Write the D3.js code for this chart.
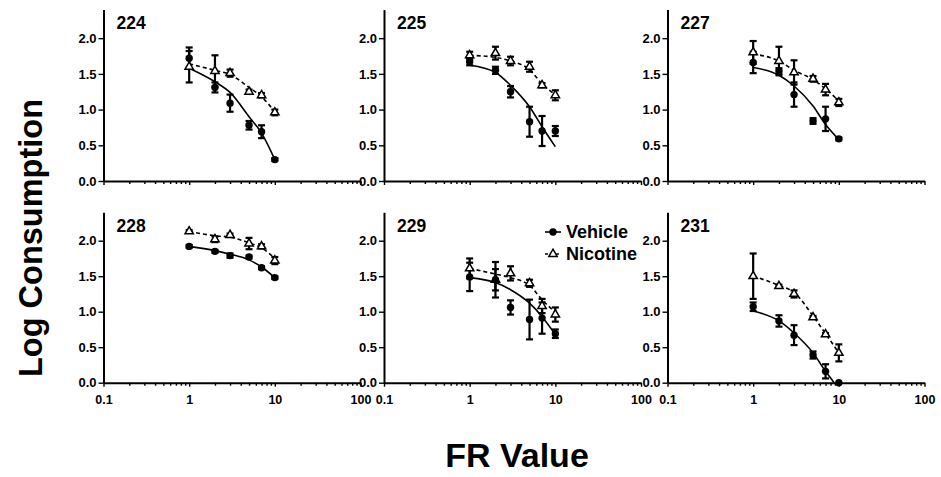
<!DOCTYPE html>
<html>
<head>
<meta charset="utf-8">
<script src="https://cdn.jsdelivr.net/npm/d3@7/dist/d3.min.js"></script>
<style>
  html, body { margin: 0; padding: 0; background: #fff; }
  svg { display: block; }
  text { font-family: "Liberation Sans", Arial, sans-serif; font-weight: bold; fill: #000; }
</style>
</head>
<body>
<svg id="chart" width="941" height="477"></svg>
<script>
// ---------- DATA ----------
const subjects = ["224", "225", "227", "228", "229", "231"];
const frValues = [1, 2, 3, 5, 7, 10];
const yTickValues = [0, 0.5, 1.0, 1.5, 2.0];
const xTickValues = [0.1, 1, 10, 100];
const xTickLabels = ["0.1", "1", "10", "100"];
const seriesNames = ["Vehicle", "Nicotine"];

const vehicleMean = [
  [1.72, 1.31, 1.09, 0.78, 0.69, 0.30],
  [1.67, 1.55, 1.25, 0.83, 0.70, 0.70],
  [1.66, 1.54, 1.21, 0.84, 0.87, 0.59],
  [1.92, 1.85, 1.79, 1.77, 1.62, 1.48],
  [1.49, 1.45, 1.06, 0.89, 0.91, 0.69],
  [1.07, 0.87, 0.67, 0.39, 0.16, 0.00]
];
const vehicleErr = [
  [0.15, 0.07, 0.12, 0.06, 0.09, 0.02],
  [0.05, 0.05, 0.08, 0.21, 0.21, 0.07],
  [0.15, 0.04, 0.17, 0.04, 0.17, 0.02],
  [0.02, 0.02, 0.03, 0.02, 0.02, 0.02],
  [0.20, 0.25, 0.10, 0.28, 0.22, 0.06],
  [0.06, 0.08, 0.14, 0.05, 0.10, 0.00]
];
const nicotineMean = [
  [1.60, 1.54, 1.51, 1.25, 1.20, 0.96],
  [1.76, 1.79, 1.68, 1.60, 1.34, 1.20],
  [1.80, 1.68, 1.52, 1.43, 1.28, 1.10],
  [2.13, 2.02, 2.08, 1.96, 1.92, 1.72],
  [1.61, 1.45, 1.54, 1.40, 1.08, 0.96],
  [1.50, 1.36, 1.25, 0.92, 0.68, 0.42]
];
const nicotineErr = [
  [0.22, 0.22, 0.05, 0.03, 0.03, 0.04],
  [0.05, 0.09, 0.06, 0.07, 0.03, 0.07],
  [0.16, 0.20, 0.17, 0.04, 0.08, 0.05],
  [0.02, 0.04, 0.02, 0.08, 0.03, 0.05],
  [0.14, 0.15, 0.10, 0.05, 0.10, 0.10],
  [0.32, 0.02, 0.05, 0.02, 0.02, 0.12]
];
// fitted demand curves
const vehicleFitX = [
  [1, 2, 3, 5, 7, 10],
  [1, 2, 3, 5, 7, 10],
  [1, 2, 3, 5, 7, 10],
  [1, 2, 3, 5, 7, 10],
  [1, 2, 3, 5, 7, 10],
  [1, 2, 3, 5, 7, 8.8]
];
const vehicleFit = [
  [1.58, 1.39, 1.24, 0.90, 0.67, 0.30],
  [1.62, 1.52, 1.34, 1.04, 0.76, 0.48],
  [1.59, 1.48, 1.33, 1.05, 0.79, 0.58],
  [1.92, 1.86, 1.81, 1.73, 1.63, 1.48],
  [1.48, 1.41, 1.31, 1.12, 0.93, 0.68],
  [1.01, 0.87, 0.70, 0.42, 0.16, 0.00]
];
const nicotineFitX = [
  [1, 2, 3, 5, 7, 10],
  [1, 2, 3, 5, 7, 10],
  [1, 2, 3, 5, 7, 10],
  [1, 2, 3, 5, 7, 10],
  [1, 2, 3, 5, 7, 10],
  [1, 2, 3, 5, 7, 10]
];
const nicotineFit = [
  [1.64, 1.55, 1.49, 1.31, 1.18, 0.97],
  [1.76, 1.73, 1.68, 1.56, 1.36, 1.21],
  [1.78, 1.68, 1.55, 1.42, 1.29, 1.12],
  [2.13, 2.07, 2.05, 1.97, 1.90, 1.75],
  [1.61, 1.53, 1.48, 1.37, 1.17, 0.99],
  [1.50, 1.37, 1.27, 0.94, 0.69, 0.42]
];

// ---------- LAYOUT ----------
const svg = d3.select("#chart");
const colLeft = [103.5, 384, 667.5];
const panelW = 257;
const rowTop = [9.6, 212.3];
const rowBottom = [181, 382.7];

const minorTicks = [];
[0.1, 1, 10].forEach(d => { for (let k = 2; k <= 9; k++) minorTicks.push(d * k); });

subjects.forEach((subj, i) => {
  const col = i % 3, row = Math.floor(i / 3);
  const x = d3.scaleLog().domain([0.1, 100]).range([colLeft[col], colLeft[col] + panelW]);
  const y = d3.scaleLinear().domain([0, 2.4]).range([rowBottom[row], rowTop[row]]);
  const g = svg.append("g");

  // axes
  const yAxis = d3.axisLeft(y).tickValues(yTickValues).tickFormat(d3.format(".1f"))
    .tickSize(5).tickSizeOuter(0).tickPadding(2);
  const ya = g.append("g").attr("transform", `translate(${colLeft[col]},0)`).call(yAxis);
  ya.selectAll("text").style("font-size", "13px");

  const xMinor = d3.axisBottom(x).tickValues(minorTicks).tickFormat("").tickSize(3).tickSizeOuter(0);
  const xm = g.append("g").attr("transform", `translate(0,${rowBottom[row]})`).call(xMinor);
  xm.select(".domain").remove();

  const xAxis = d3.axisBottom(x).tickValues(xTickValues)
    .tickFormat((d, j) => row === 1 ? xTickLabels[j] : "")
    .tickSize(4).tickSizeOuter(0).tickPadding(8);
  const xa = g.append("g").attr("transform", `translate(0,${rowBottom[row]})`).call(xAxis);
  xa.selectAll("text").style("font-size", "12.5px");

  g.selectAll(".domain").attr("stroke-width", 2);
  g.selectAll(".tick line").attr("stroke-width", 1.4);

  // subject label
  g.append("text").attr("x", colLeft[col] + 13).attr("y", rowTop[row] + 19.5)
    .style("font-size", "17.5px").text(subj);

  const series = [
    { mean: nicotineMean[i], err: nicotineErr[i], fx: nicotineFitX[i], fy: nicotineFit[i], dash: "4,3", tri: true },
    { mean: vehicleMean[i], err: vehicleErr[i], fx: vehicleFitX[i], fy: vehicleFit[i], dash: null, tri: false }
  ];

  const line = d3.line().x(d => x(d[0])).y(d => y(d[1])).curve(d3.curveMonotoneX);

  // fitted curves
  series.forEach(s => {
    g.append("path").datum(s.fx.map((v, j) => [v, s.fy[j]]))
      .attr("d", line).attr("fill", "none").attr("stroke", "#000")
      .attr("stroke-width", 1.6).attr("stroke-dasharray", s.dash);
  });

  // error bars
  series.forEach(s => {
    frValues.forEach((f, j) => {
      const e = s.err[j];
      if (e <= 0.005) return;
      const cx = x(f), y1 = y(Math.max(0, s.mean[j] - e)), y2 = y(s.mean[j] + e);
      g.append("line").attr("x1", cx).attr("x2", cx).attr("y1", y1).attr("y2", y2)
        .attr("stroke", "#000").attr("stroke-width", 2.2);
      [y1, y2].forEach(yy => g.append("line").attr("x1", cx - 3.5).attr("x2", cx + 3.5)
        .attr("y1", yy).attr("y2", yy).attr("stroke", "#000").attr("stroke-width", 2.2));
    });
  });

  // markers
  series.forEach(s => {
    frValues.forEach((f, j) => {
      if (s.tri) {
        g.append("path").attr("d", d3.symbol(d3.symbolTriangle, 30)())
          .attr("transform", `translate(${x(f)},${y(s.mean[j])})`)
          .attr("fill", "#fff").attr("stroke", "#000").attr("stroke-width", 1.5);
      } else {
        g.append("circle").attr("cx", x(f)).attr("cy", y(s.mean[j])).attr("r", 3.7).attr("fill", "#000");
      }
    });
  });
});

// legend (in panel 229)
const lg = svg.append("g");
[0, 1].forEach(k => {
  const ly = 232 + k * 22;
  lg.append("line").attr("x1", 545).attr("x2", 561).attr("y1", ly).attr("y2", ly)
    .attr("stroke", "#000").attr("stroke-width", 1.6).attr("stroke-dasharray", k ? "3,2.5" : null);
  if (k === 0) {
    lg.append("circle").attr("cx", 553).attr("cy", ly).attr("r", 3.7).attr("fill", "#000");
  } else {
    lg.append("path").attr("d", d3.symbol(d3.symbolTriangle, 30)())
      .attr("transform", `translate(553,${ly})`)
      .attr("fill", "#fff").attr("stroke", "#000").attr("stroke-width", 1.5);
  }
  lg.append("text").attr("x", 566).attr("y", ly).attr("dy", "0.36em")
    .style("font-size", "18px").text(seriesNames[k]);
});

// axis titles
svg.append("text").attr("x", 517).attr("y", 467).attr("text-anchor", "middle")
  .style("font-size", "34px").text("FR Value");
svg.append("text").attr("transform", "translate(42,238) rotate(-90)").attr("text-anchor", "middle")
  .style("font-size", "32.5px").text("Log Consumption");
</script>
</body>
</html>
